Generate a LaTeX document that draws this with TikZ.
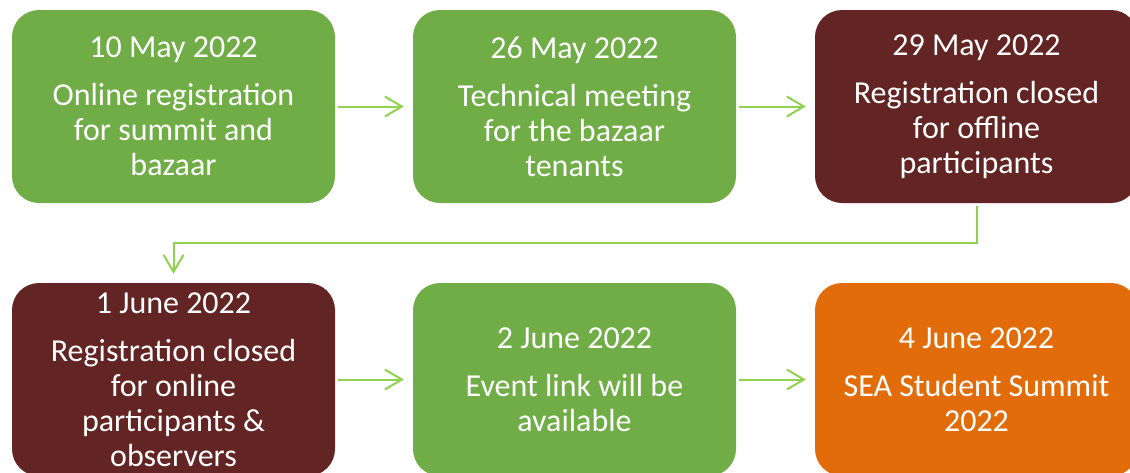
\documentclass[tikz,border=0pt]{standalone}
\usepackage{fontspec}
\setmainfont{Carlito}
\usetikzlibrary{arrows.meta,positioning,calc}

\definecolor{evgreen}{HTML}{70AD47}
\definecolor{evmaroon}{HTML}{632523}
\definecolor{evorange}{HTML}{E36C0A}
\definecolor{lnkgreen}{HTML}{92D050}

\begin{document}
\begin{tikzpicture}[x=1pt, y=-1pt,
  evt/.style={rectangle, rounded corners=27pt, minimum width=323pt,
              minimum height=193pt, inner sep=0pt, align=center, text=white,
              font=\fontsize{32}{35}\selectfont},
  lnk/.style={-{Straight Barb[length=17pt,width=20pt]}, line width=2pt,
              draw=lnkgreen, shorten <=3pt, shorten >=9pt},
]
\useasboundingbox (0,0) rectangle (1130,472);

% first row
\node[evt, fill=evgreen]  (reg)  at (173.5,106.5) {10 May 2022\\[13pt]Online registration\\for summit and\\bazaar};
\node[evt, fill=evgreen]  (tech) at (574.5,106.5) {26 May 2022\\[13pt]Technical meeting\\for the bazaar\\tenants};
\node[evt, fill=evmaroon] (off)  at (976.5,106.5) {29 May 2022\\[13pt]Registration closed\\for offline\\participants};

% second row
\node[evt, fill=evmaroon] (onl)  at (173.5,379.5) {1 June 2022\\[13pt]Registration closed\\for online\\participants \&\\observers};
\node[evt, fill=evgreen]  (link) at (574.5,379.5) {2 June 2022\\[13pt]Event link will be\\available};
\node[evt, fill=evorange] (summ) at (976.5,379.5) {4 June 2022\\[13pt]SEA Student Summit\\2022};

\draw[lnk] (reg) -- (tech);
\draw[lnk] (tech) -- (off);
\draw[lnk] (off.south) -- ++(0,39.5) -| (onl.north);
\draw[lnk] (onl) -- (link);
\draw[lnk] (link) -- (summ);
\end{tikzpicture}
\end{document}
